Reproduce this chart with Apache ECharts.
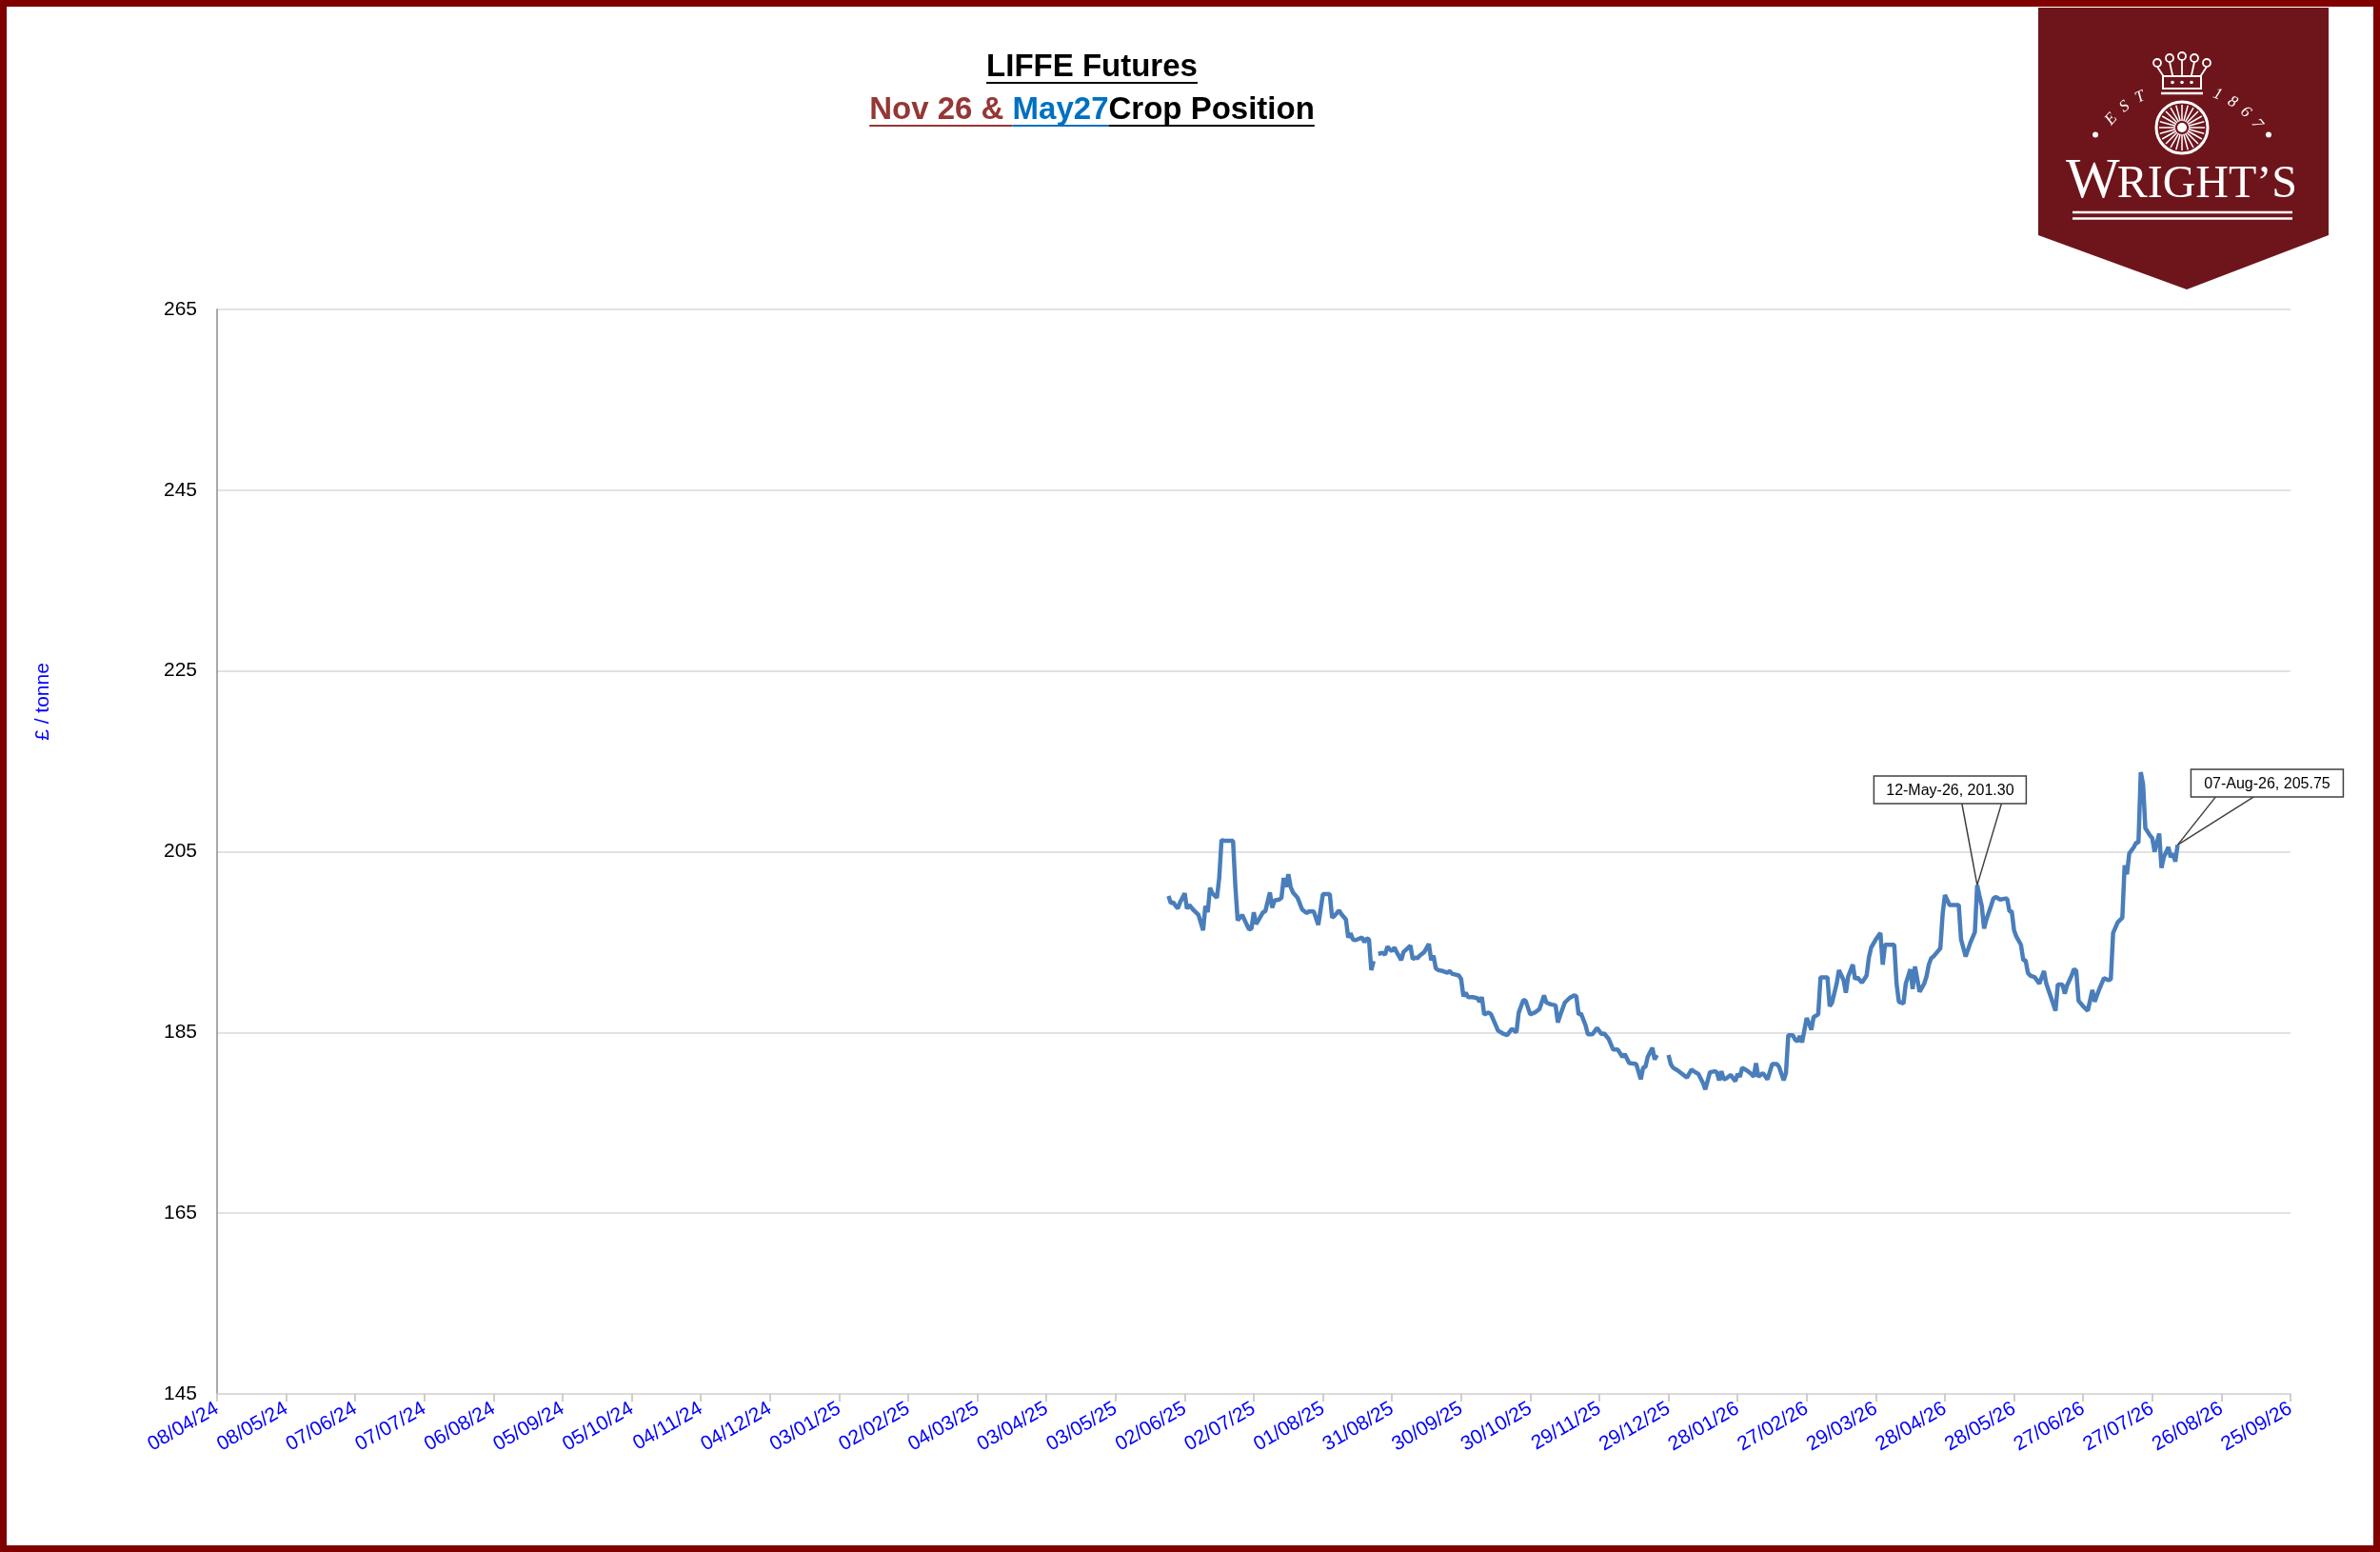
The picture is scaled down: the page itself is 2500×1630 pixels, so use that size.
<!DOCTYPE html>
<html>
<head>
<meta charset="utf-8">
<title>LIFFE Futures</title>
<script src="https://cdn.jsdelivr.net/npm/echarts@6/dist/echarts.min.js"></script>
<style>
html,body{margin:0;padding:0;background:#fff;}
#chart{width:2500px;height:1630px;}
</style>
</head>
<body>
<div id="chart"></div>
<script>
// May27 contract, daily close (GBP/tonne); null = no quote (line break)
var dates = [
 '2025-05-26','2025-05-27','2025-05-28','2025-05-30','2025-05-31','2025-06-02','2025-06-03','2025-06-04','2025-06-06','2025-06-08',
 '2025-06-10','2025-06-11','2025-06-12','2025-06-13','2025-06-14','2025-06-16','2025-06-17','2025-06-18','2025-06-19','2025-06-20',
 '2025-06-23','2025-06-24','2025-06-25','2025-06-27','2025-06-29','2025-06-30','2025-07-01','2025-07-02','2025-07-03','2025-07-04',
 '2025-07-06','2025-07-07','2025-07-09','2025-07-10','2025-07-11','2025-07-13','2025-07-14','2025-07-15','2025-07-16','2025-07-17',
 '2025-07-18','2025-07-19','2025-07-21','2025-07-23','2025-07-25','2025-07-26','2025-07-28','2025-07-30','2025-08-01','2025-08-02',
 '2025-08-04','2025-08-05','2025-08-06','2025-08-08','2025-08-09','2025-08-11','2025-08-12','2025-08-13','2025-08-14','2025-08-15',
 '2025-08-18','2025-08-19','2025-08-20','2025-08-21','2025-08-22','2025-08-23','2025-08-24','2025-08-25','2025-08-27','2025-08-28',
 '2025-08-29','2025-08-30','2025-08-31','2025-09-01','2025-09-02','2025-09-04','2025-09-05','2025-09-08','2025-09-09','2025-09-10',
 '2025-09-11','2025-09-12','2025-09-14','2025-09-16','2025-09-17','2025-09-18','2025-09-19','2025-09-20','2025-09-22','2025-09-24',
 '2025-09-25','2025-09-26','2025-09-29','2025-09-30','2025-10-01','2025-10-02','2025-10-03','2025-10-05','2025-10-07','2025-10-08',
 '2025-10-09','2025-10-10','2025-10-12','2025-10-13','2025-10-15','2025-10-16','2025-10-18','2025-10-20','2025-10-22','2025-10-24',
 '2025-10-25','2025-10-27','2025-10-28','2025-10-30','2025-11-01','2025-11-03','2025-11-05','2025-11-06','2025-11-08','2025-11-10',
 '2025-11-11','2025-11-12','2025-11-14','2025-11-16','2025-11-18','2025-11-19','2025-11-20','2025-11-21','2025-11-23','2025-11-24',
 '2025-11-26','2025-11-28','2025-11-30','2025-12-01','2025-12-03','2025-12-05','2025-12-07','2025-12-09','2025-12-10','2025-12-11',
 '2025-12-12','2025-12-15','2025-12-17','2025-12-18','2025-12-19','2025-12-20','2025-12-22','2025-12-23','2025-12-24','2025-12-26',
 '2025-12-29','2025-12-30','2025-12-31','2026-01-02','2026-01-04','2026-01-06','2026-01-08','2026-01-09','2026-01-11','2026-01-13',
 '2026-01-14','2026-01-16','2026-01-18','2026-01-19','2026-01-20','2026-01-21','2026-01-22','2026-01-23','2026-01-25','2026-01-27',
 '2026-01-28','2026-01-29','2026-01-30','2026-02-01','2026-02-03','2026-02-04','2026-02-05','2026-02-06','2026-02-07','2026-02-08',
 '2026-02-10','2026-02-12','2026-02-14','2026-02-15','2026-02-17','2026-02-18','2026-02-19','2026-02-21','2026-02-22','2026-02-23',
 '2026-02-24','2026-02-25','2026-02-27','2026-02-28','2026-03-01','2026-03-02','2026-03-04','2026-03-05','2026-03-07','2026-03-08',
 '2026-03-09','2026-03-10','2026-03-12','2026-03-13','2026-03-15','2026-03-16','2026-03-17','2026-03-19','2026-03-20','2026-03-21',
 '2026-03-23','2026-03-25','2026-03-26','2026-03-27','2026-03-29','2026-03-31','2026-04-01','2026-04-02','2026-04-04','2026-04-06',
 '2026-04-07','2026-04-08','2026-04-10','2026-04-11','2026-04-13','2026-04-14','2026-04-15','2026-04-17','2026-04-19','2026-04-20',
 '2026-04-21','2026-04-22','2026-04-23','2026-04-26','2026-04-27','2026-04-28','2026-04-30','2026-05-04','2026-05-05','2026-05-07',
 '2026-05-09','2026-05-11','2026-05-12','2026-05-13','2026-05-14','2026-05-15','2026-05-16','2026-05-18','2026-05-19','2026-05-20',
 '2026-05-22','2026-05-24','2026-05-25','2026-05-26','2026-05-27','2026-05-28','2026-05-29','2026-05-31','2026-06-01','2026-06-02',
 '2026-06-03','2026-06-04','2026-06-06','2026-06-08','2026-06-10','2026-06-11','2026-06-13','2026-06-15','2026-06-16','2026-06-18',
 '2026-06-19','2026-06-20','2026-06-22','2026-06-23','2026-06-24','2026-06-25','2026-06-27','2026-06-29','2026-07-01','2026-07-02',
 '2026-07-04','2026-07-06','2026-07-08','2026-07-09','2026-07-10','2026-07-12','2026-07-14','2026-07-15','2026-07-16','2026-07-17',
 '2026-07-19','2026-07-20','2026-07-21','2026-07-22','2026-07-23','2026-07-24','2026-07-26','2026-07-27','2026-07-28','2026-07-30',
 '2026-07-31','2026-08-01','2026-08-03','2026-08-04','2026-08-05','2026-08-06','2026-08-07'
];
var prices = [
 200.1,199.3,199.4,198.7,199.4,200.4,198.7,199.1,198.5,198.0,
 196.3,199.0,198.3,201.0,200.4,199.9,202.1,206.3,206.2,206.2,
 206.2,201.2,197.4,198.0,196.9,196.4,196.5,198.3,197.0,197.4,
 198.3,198.4,200.5,198.8,199.6,199.7,199.9,202.1,201.1,202.5,
 201.1,200.5,199.9,198.6,198.2,198.4,198.4,196.9,200.3,200.3,
 200.3,197.7,197.9,198.5,198.1,197.5,195.5,196.0,195.3,195.2,
 195.5,195.0,195.4,195.3,191.9,192.9,null,193.7,193.8,193.6,
 194.5,194.2,194.0,194.4,193.9,193.0,193.9,194.6,193.1,193.3,
 193.2,193.5,193.9,194.8,193.0,193.5,192.1,191.9,191.8,191.6,
 191.8,191.5,191.3,190.9,189.0,189.4,188.9,188.9,188.8,188.4,
 188.9,187.0,187.2,187.0,185.8,185.2,184.9,184.7,185.4,185.0,
 187.2,188.6,188.5,187.0,187.2,187.6,189.1,188.3,188.1,188.0,
 186.1,186.9,188.3,188.8,189.1,189.0,187.0,187.1,185.8,184.8,
 184.8,185.5,184.8,184.9,184.3,183.1,183.1,182.3,182.6,182.1,
 181.6,181.5,179.8,181.1,181.2,182.3,183.3,182.0,182.5,null,
 182.5,181.5,181.1,180.8,180.4,180.0,180.9,180.7,180.4,179.4,
 178.7,180.6,180.7,180.6,179.7,180.7,179.8,179.9,180.3,179.6,
 180.4,180.1,181.1,180.8,180.4,180.1,181.6,180.1,180.3,180.5,
 179.8,181.5,181.5,181.2,179.7,180.5,184.7,184.7,184.2,184.0,
 184.6,183.9,186.6,186.0,185.3,186.7,187.0,191.1,191.1,191.1,
 187.9,188.3,190.4,191.9,190.8,189.4,191.2,192.5,190.9,191.1,
 190.5,191.3,193.3,194.4,195.3,196.0,192.5,194.7,194.7,194.7,
 190.4,188.4,188.2,190.4,192.0,189.8,192.3,189.5,190.4,191.2,
 192.5,193.2,193.4,194.3,198.1,200.2,199.1,199.1,195.3,193.4,
 194.9,196.1,201.3,200.1,199.0,196.5,197.5,199.0,199.8,200.0,
 199.7,199.8,199.8,198.4,198.4,196.3,195.6,194.7,193.0,193.0,
 191.6,191.3,191.1,190.4,191.8,190.4,188.9,187.4,190.3,190.3,
 189.3,190.2,191.3,192.0,191.8,188.5,187.9,187.4,189.7,188.4,
 189.8,191.0,190.8,190.9,196.0,197.2,197.7,203.5,202.5,204.8,
 205.5,206.0,206.0,213.8,212.5,207.6,206.8,206.5,205.0,207.0,
 203.2,204.4,205.5,204.4,204.8,203.9,205.75
];
var axisStart = '2024-04-08';   // first x tick
var tickStepDays = 30;
var axisSpanDays = 900;         // last tick 25/09/26
var yMin = 145, yMax = 265, yStep = 20;
var calloutDates = ['2026-05-12', '2026-08-07'];
var titleLine1 = 'LIFFE Futures';
var titleLine2 = [['Nov 26 & ', '#953735'], ['May27', '#0070c0'], ['Crop Position', '#000000']];
var yAxisTitle = '£ / tonne';

var DAY = 86400000;
var base = Date.parse(axisStart);
var MON = ['Jan','Feb','Mar','Apr','May','Jun','Jul','Aug','Sep','Oct','Nov','Dec'];
function toDay(s){ return Math.round((Date.parse(s) - base) / DAY); }
function pad(n){ return (n < 10 ? '0' : '') + n; }
function tickLabel(d){
    var t = new Date(base + d * DAY);
    return pad(t.getUTCDate()) + '/' + pad(t.getUTCMonth() + 1) + '/' + String(t.getUTCFullYear()).slice(2);
}
function calloutLabel(s, v){
    var t = new Date(Date.parse(s));
    return pad(t.getUTCDate()) + '-' + MON[t.getUTCMonth()] + '-' + String(t.getUTCFullYear()).slice(2) + ', ' + v.toFixed(2);
}

var seriesData = dates.map(function(d, i){
    return [toDay(d), prices[i] === null ? '-' : prices[i]];
});

var SANS = '"Liberation Sans", Arial, sans-serif';
var chart = echarts.init(document.getElementById('chart'));
chart.setOption({
    animation: false,
    backgroundColor: '#ffffff',
    grid: {left: 228, right: 94, top: 325, bottom: 166},
    xAxis: {
        type: 'value', min: 0, max: axisSpanDays, interval: tickStepDays,
        axisLine: {show: true, lineStyle: {color: '#d9d9d9', width: 1.5}},
        axisTick: {show: true, length: 8, lineStyle: {color: '#bfbfbf', width: 1.5}},
        axisLabel: {rotate: 30, margin: 14, color: '#0000ff', fontSize: 21, fontFamily: SANS, formatter: tickLabel},
        splitLine: {show: false}
    },
    yAxis: {
        type: 'value', min: yMin, max: yMax, interval: yStep,
        axisLine: {show: true, lineStyle: {color: '#8c8c8c', width: 1.5}},
        axisTick: {show: false},
        axisLabel: {margin: 21, color: '#000000', fontSize: 21, fontFamily: SANS},
        splitLine: {lineStyle: {color: '#d9d9d9', width: 1.5}}
    },
    series: [{
        name: 'May27',
        type: 'line',
        data: seriesData,
        showSymbol: false,
        connectNulls: false,
        lineStyle: {color: '#4a7ebb', width: 4.5},
        itemStyle: {color: '#4a7ebb'}
    }]
});

// text measuring for underlines
var mctx = document.createElement('canvas').getContext('2d');
function textW(str, font){ mctx.font = font; return mctx.measureText(str).width; }

var g = [];
// frame
g.push({type: 'rect', z: 50, shape: {x: 3.5, y: 3.5, width: 2493, height: 1623},
    style: {fill: 'none', stroke: '#800000', lineWidth: 7}});

// title
var titleX = 1147;
var tFont = 'bold 33px ' + SANS;
var w1 = textW(titleLine1, tFont);
g.push({type: 'text', z: 50, x: titleX, y: 71, style: {text: titleLine1, fill: '#000', font: tFont, align: 'center', verticalAlign: 'middle'}});
g.push({type: 'line', z: 50, shape: {x1: titleX - w1 / 2, y1: 87, x2: titleX + w1 / 2, y2: 87}, style: {stroke: '#000', lineWidth: 2}});
var tot = 0;
titleLine2.forEach(function(p){ tot += textW(p[0], tFont); });
var cx = titleX - tot / 2;
titleLine2.forEach(function(p){
    var w = textW(p[0], tFont);
    g.push({type: 'text', z: 50, x: cx, y: 116, style: {text: p[0], fill: p[1], font: tFont, align: 'left', verticalAlign: 'middle'}});
    g.push({type: 'line', z: 50, shape: {x1: cx, y1: 132, x2: cx + w, y2: 132}, style: {stroke: p[1], lineWidth: 2}});
    cx += w;
});

// y axis title
g.push({type: 'text', z: 50, x: 45, y: 737, rotation: Math.PI / 2,
    style: {text: yAxisTitle, fill: '#0000ff', font: '21px ' + SANS, align: 'center', verticalAlign: 'middle'}});

// logo banner
var LOGO = '#6e151c';
g.push({type: 'polygon', z: 50, shape: {points: [[2141, 8], [2446, 8], [2446, 247], [2297, 304], [2141, 247]]}, style: {fill: LOGO}});
// crown
g.push({type: 'rect', z: 51, shape: {x: 2272, y: 80, width: 40, height: 13}, style: {fill: 'none', stroke: '#fff', lineWidth: 2}});
g.push({type: 'line', z: 51, shape: {x1: 2270, y1: 98, x2: 2314, y2: 98}, style: {stroke: '#fff', lineWidth: 2.5}});
[[2266, 66], [2279, 61], [2292, 59], [2305, 61], [2318, 66]].forEach(function(c){
    g.push({type: 'circle', z: 51, shape: {cx: c[0], cy: c[1], r: 4}, style: {fill: 'none', stroke: '#fff', lineWidth: 1.8}});
    g.push({type: 'line', z: 51, shape: {x1: c[0], y1: c[1] + 4, x2: 2292 + (c[0] - 2292) * 0.75, y2: 80}, style: {stroke: '#fff', lineWidth: 1.8}});
});
[2282, 2292, 2302].forEach(function(x){
    g.push({type: 'circle', z: 51, shape: {cx: x, cy: 86.5, r: 1.8}, style: {fill: '#fff'}});
});
// wheel
g.push({type: 'circle', z: 51, shape: {cx: 2292, cy: 134, r: 27}, style: {fill: 'none', stroke: '#fff', lineWidth: 3}});
for (var k = 0; k < 24; k++) {
    var a = k * Math.PI / 12;
    g.push({type: 'line', z: 51, shape: {x1: 2292 + 7 * Math.cos(a), y1: 134 + 7 * Math.sin(a), x2: 2292 + 24 * Math.cos(a), y2: 134 + 24 * Math.sin(a)},
        style: {stroke: '#fff', lineWidth: 1.5}});
}
g.push({type: 'circle', z: 52, shape: {cx: 2292, cy: 134, r: 5}, style: {fill: '#fff'}});
// EST 1867 on an arc
var arcLetters = [['E', -48], ['S', -37], ['T', -26], ['1', 22], ['8', 32], ['6', 42], ['7', 52]];
arcLetters.forEach(function(l){
    var r = l[1] * Math.PI / 180;
    g.push({type: 'text', z: 51, x: 2292 + 100 * Math.sin(r), y: 192 - 100 * Math.cos(r), rotation: -r,
        style: {text: l[0], fill: '#fff', font: 'italic 17px "Liberation Serif", serif', align: 'center', verticalAlign: 'middle'}});
});
[-61, 61].forEach(function(d){
    var r = d * Math.PI / 180;
    g.push({type: 'circle', z: 51, shape: {cx: 2292 + 104 * Math.sin(r), cy: 192 - 104 * Math.cos(r), r: 3}, style: {fill: '#fff'}});
});
// WRIGHT'S
var fW = '60px "Liberation Serif", serif', fR = '48px "Liberation Serif", serif';
var ww = textW('W', fW), wr = textW('RIGHT\u2019S', fR);
var lx = 2293 - (ww + wr) / 2;
g.push({type: 'text', z: 51, x: lx, y: 211 - 0.3375 * 60, style: {text: 'W', fill: '#fff', font: fW, align: 'left', verticalAlign: 'middle'}});
g.push({type: 'text', z: 51, x: lx + ww - 3, y: 211 - 0.3375 * 48, style: {text: 'RIGHT\u2019S', fill: '#fff', font: fR, align: 'left', verticalAlign: 'middle'}});
g.push({type: 'line', z: 51, shape: {x1: 2177, y1: 223, x2: 2408, y2: 223}, style: {stroke: '#fff', lineWidth: 2.5}});
g.push({type: 'line', z: 51, shape: {x1: 2177, y1: 229.5, x2: 2408, y2: 229.5}, style: {stroke: '#fff', lineWidth: 2.5}});

// data callouts: box centre offset and leader roots relative to the point
var calloutLayout = [
    {dx: -28.5, dy: -100, roots: [12.5, 54]},
    {dx: 94, dy: -65, roots: [-54, -14]}
];
calloutDates.forEach(function(d, i){
    var idx = dates.indexOf(d);
    var v = prices[idx];
    var p = chart.convertToPixel({gridIndex: 0}, [toDay(d), v]);
    var L = calloutLayout[i];
    var bw = 160, bh = 29;
    var bx = p[0] + L.dx, by = p[1] + L.dy;
    L.roots.forEach(function(rx){
        g.push({type: 'line', z: 60, shape: {x1: bx + rx, y1: by + bh / 2, x2: p[0], y2: p[1]}, style: {stroke: '#404040', lineWidth: 1.5}});
    });
    g.push({type: 'rect', z: 61, shape: {x: bx - bw / 2, y: by - bh / 2, width: bw, height: bh}, style: {fill: '#fff', stroke: '#404040', lineWidth: 1.5}});
    g.push({type: 'text', z: 62, x: bx, y: by + 1, style: {text: calloutLabel(d, v), fill: '#000', font: '16px ' + SANS, align: 'center', verticalAlign: 'middle'}});
});

chart.setOption({graphic: g});
</script>
</body>
</html>
